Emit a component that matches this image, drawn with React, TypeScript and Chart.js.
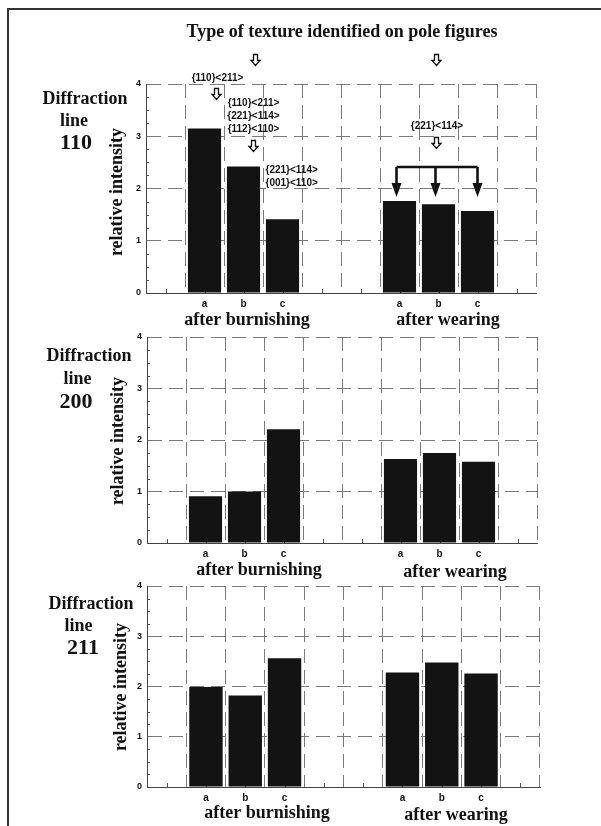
import React, { useEffect, useRef } from "react";
import { Chart, registerables } from "chart.js";

Chart.register(...registerables);

// ---------------- data ----------------
const samples = ["a", "b", "c"];
const groupNames = ["after burnishing", "after wearing"];
const yTickValues = [0, 1, 2, 3, 4];
const diffractionLines = ["110", "200", "211"];

const line110Burnishing = [3.15, 2.42, 1.41];
const line110Wearing = [1.76, 1.7, 1.57];
const line200Burnishing = [0.91, 1.0, 2.21];
const line200Wearing = [1.63, 1.75, 1.58];
const line211Burnishing = [1.99, 1.82, 2.56];
const line211Wearing = [2.28, 2.48, 2.26];

const chartTitle = "Type of texture identified on pole figures";
const texturesBarA = ["{110}<211>"];
const texturesBarB = ["{110}<211>", "{221}<114>", "{112}<110>"];
const texturesBarC = ["{221}<114>", "{001}<110>"];
const texturesWearing = ["{221}<114>"];

// ---------------- layout ----------------
const W = 601;
const SERIF = "'Liberation Serif', 'Times New Roman', serif";
const SANS = "'Liberation Sans', Arial, sans-serif";
const INK = "#111111";
const XH = 20;

type Panel = {
  lineName: string;
  burn: number[];
  wear: number[];
  top: number;
  height: number;
  area: { left: number; right: number; top: number; bottom: number };
  diff: [number, number];
  lineLbl: [number, number];
  num: [number, number];
  ytitle: [number, number];
  burnLbl: [number, number];
  wearLbl: [number, number];
  annotate: boolean;
};

const panels: Panel[] = [
  {
    lineName: diffractionLines[0], burn: line110Burnishing, wear: line110Wearing,
    top: 0, height: 332, area: { left: 146, right: 536, top: 84, bottom: 293 },
    diff: [85, 99], lineLbl: [74, 121], num: [76, 143], ytitle: [117, 192],
    burnLbl: [247, 320], wearLbl: [448, 320], annotate: true,
  },
  {
    lineName: diffractionLines[1], burn: line200Burnishing, wear: line200Wearing,
    top: 332, height: 250, area: { left: 147, right: 537, top: 337, bottom: 543 },
    diff: [89, 356], lineLbl: [77.5, 379], num: [76, 402], ytitle: [118, 441],
    burnLbl: [259, 570], wearLbl: [455, 572], annotate: false,
  },
  {
    lineName: diffractionLines[2], burn: line211Burnishing, wear: line211Wearing,
    top: 582, height: 244, area: { left: 147, right: 540, top: 586, bottom: 787 },
    diff: [91, 604], lineLbl: [78.5, 626], num: [83, 648], ytitle: [121, 687],
    burnLbl: [267, 813], wearLbl: [456, 815], annotate: false,
  },
];

function slotLabels(): string[] {
  return ["", ...samples, "", "", ...samples, ""];
}
function slotValues(b: number[], w: number[]): (number | null)[] {
  return [null, ...b, null, null, ...w, null];
}

function txt(ctx: CanvasRenderingContext2D, s: string, x: number, y: number, font: string, align: CanvasTextAlign = "center") {
  ctx.save();
  ctx.font = font;
  ctx.fillStyle = INK;
  ctx.textAlign = align;
  ctx.textBaseline = "middle";
  ctx.fillText(s, x, y);
  ctx.restore();
}

function hollowArrow(ctx: CanvasRenderingContext2D, cx: number, cy: number) {
  ctx.save();
  ctx.strokeStyle = INK;
  ctx.lineWidth = 1.3;
  ctx.fillStyle = "#fff";
  ctx.beginPath();
  ctx.moveTo(cx - 2, cy - 5.5);
  ctx.lineTo(cx + 2, cy - 5.5);
  ctx.lineTo(cx + 2, cy + 0.5);
  ctx.lineTo(cx + 4.5, cy + 0.5);
  ctx.lineTo(cx, cy + 5.5);
  ctx.lineTo(cx - 4.5, cy + 0.5);
  ctx.lineTo(cx - 2, cy + 0.5);
  ctx.closePath();
  ctx.fill();
  ctx.stroke();
  ctx.restore();
}

function makeOverlay(p: Panel, idx: number) {
  const oy = p.top;
  return {
    id: "overlay" + idx,
    beforeDatasetsDraw(chart: any) {
      const ctx: CanvasRenderingContext2D = chart.ctx;
      const xs = chart.scales.x;
      const ys = chart.scales.y;
      const a = chart.chartArea;
      ctx.save();
      ctx.strokeStyle = "#555";
      ctx.lineWidth = 1;
      for (let v = 0.25; v < 4; v += 0.25) {
        if (Math.abs(v - Math.round(v)) < 1e-6) continue;
        const y = Math.round(ys.getPixelForValue(v)) + 0.5;
        ctx.beginPath();
        ctx.moveTo(a.left, y);
        ctx.lineTo(a.left + 3, y);
        ctx.stroke();
      }
      const labels = chart.data.labels as string[];
      for (let i = 0; i < labels.length; i++) {
        const x = Math.round(xs.getPixelForValue(i)) + 0.5;
        ctx.beginPath();
        ctx.moveTo(x, a.bottom);
        ctx.lineTo(x, a.bottom - 4);
        ctx.stroke();
      }
      ctx.restore();
    },
    afterDraw(chart: any) {
      const ctx: CanvasRenderingContext2D = chart.ctx;
      const big = `bold 18px ${SERIF}`;
      txt(ctx, "Diffraction", p.diff[0], p.diff[1] - oy, big);
      txt(ctx, "line", p.lineLbl[0], p.lineLbl[1] - oy, big);
      txt(ctx, p.lineName, p.num[0], p.num[1] - oy, `bold 22px ${SERIF}`);
      ctx.save();
      ctx.translate(p.ytitle[0], p.ytitle[1] - oy);
      ctx.rotate(-Math.PI / 2);
      txt(ctx, "relative intensity", 0, 0, big);
      ctx.restore();
      txt(ctx, groupNames[0], p.burnLbl[0], p.burnLbl[1] - oy, big);
      txt(ctx, groupNames[1], p.wearLbl[0], p.wearLbl[1] - oy, big);

      if (!p.annotate) return;
      const xs = chart.scales.x;
      const ax = xs.getPixelForValue(1);
      const bx = xs.getPixelForValue(2);
      const cx = xs.getPixelForValue(3);
      const wa = xs.getPixelForValue(6);
      const wb = xs.getPixelForValue(7);
      const wc = xs.getPixelForValue(8);
      const small = `bold 10px ${SANS}`;

      txt(ctx, chartTitle, 342, 32, big);
      hollowArrow(ctx, bx + 12, 60);
      hollowArrow(ctx, wb - 2, 60);

      texturesBarA.forEach((s, i) => txt(ctx, s, ax + 13, 78 + i * 13, small));
      hollowArrow(ctx, ax + 12, 94);

      texturesBarB.forEach((s, i) => txt(ctx, s, bx + 10, 103 + i * 13, small));
      hollowArrow(ctx, bx + 10, 146);

      texturesBarC.forEach((s, i) => txt(ctx, s, cx - 17, 170 + i * 13, small, "left"));

      texturesWearing.forEach((s, i) => txt(ctx, s, wb - 1.5, 126 + i * 13, small));
      hollowArrow(ctx, wb - 2, 143);

      ctx.save();
      ctx.strokeStyle = INK;
      ctx.fillStyle = INK;
      ctx.lineWidth = 2.6;
      ctx.beginPath();
      ctx.moveTo(wa - 3, 167);
      ctx.lineTo(wc, 167);
      ctx.stroke();
      [wa - 3, wb - 3, wc].forEach((x) => {
        ctx.beginPath();
        ctx.moveTo(x, 167);
        ctx.lineTo(x, 184);
        ctx.stroke();
        ctx.beginPath();
        ctx.moveTo(x - 5, 183);
        ctx.lineTo(x + 5, 183);
        ctx.lineTo(x, 197);
        ctx.closePath();
        ctx.fill();
      });
      ctx.restore();
    },
  };
}

function PanelChart({ p, idx }: { p: Panel; idx: number }) {
  const ref = useRef<HTMLCanvasElement | null>(null);
  useEffect(() => {
    if (!ref.current) return;
    const areaTop = p.area.top - p.top;
    const areaBottom = p.area.bottom - p.top;
    const zeroPad = (s: any) => {
      s.paddingLeft = 0;
      s.paddingRight = 0;
      s.paddingTop = 0;
      s.paddingBottom = 0;
    };
    const chart = new Chart(ref.current, {
      type: "bar",
      data: {
        labels: slotLabels(),
        datasets: [
          {
            data: slotValues(p.burn, p.wear) as any,
            backgroundColor: "#131313",
            borderWidth: 0,
            barPercentage: 0.85,
            categoryPercentage: 1,
          },
        ],
      },
      options: {
        animation: false,
        responsive: false,
        maintainAspectRatio: false,
        layout: {
          padding: {
            left: 0,
            top: areaTop,
            right: W - p.area.right,
            bottom: p.height - areaBottom - XH,
          },
        },
        plugins: {
          legend: { display: false },
          tooltip: { enabled: false },
          title: { display: false },
        },
        scales: {
          x: {
            type: "category",
            offset: true,
            grid: { offset: true, color: "#7a7a7a", lineWidth: 1, drawTicks: false },
            border: { display: true, color: "#444", width: 1, dash: [14, 7] },
            ticks: {
              autoSkip: false,
              maxRotation: 0,
              padding: 5,
              color: INK,
              font: { family: SANS, size: 10, weight: "bold" },
            },
            afterFit: (s: any) => {
              s.height = XH;
              zeroPad(s);
            },
          },
          y: {
            min: 0,
            max: 4,
            grid: { color: "#7a7a7a", lineWidth: 1, drawTicks: false },
            border: { display: true, color: "#444", width: 1, dash: [14, 7] },
            ticks: {
              padding: 5,
              color: INK,
              font: { family: SANS, size: 9, weight: "bold" },
            },
            afterBuildTicks: (s: any) => {
              s.ticks = yTickValues.map((v) => ({ value: v }));
            },
            afterFit: (s: any) => {
              s.width = p.area.left;
              zeroPad(s);
            },
          },
        },
      } as any,
      plugins: [makeOverlay(p, idx)],
    });
    return () => chart.destroy();
  }, [p, idx]);
  return (
    <canvas
      ref={ref}
      width={W}
      height={p.height}
      style={{ position: "absolute", left: 0, top: p.top, width: W, height: p.height }}
    />
  );
}

export default function App() {
  return (
    <div
      style={{
        position: "absolute",
        left: 0,
        top: 0,
        width: W,
        height: 826,
        background: "#fff",
        overflow: "hidden",
      }}
    >
      {panels.map((p, i) => (
        <PanelChart key={i} p={p} idx={i} />
      ))}
      <div style={{ position: "absolute", left: 7, top: 8, width: 1.5, height: 818, background: "#333" }} />
      <div style={{ position: "absolute", left: 7, top: 8, width: 594, height: 1.5, background: "#333" }} />
    </div>
  );
}
